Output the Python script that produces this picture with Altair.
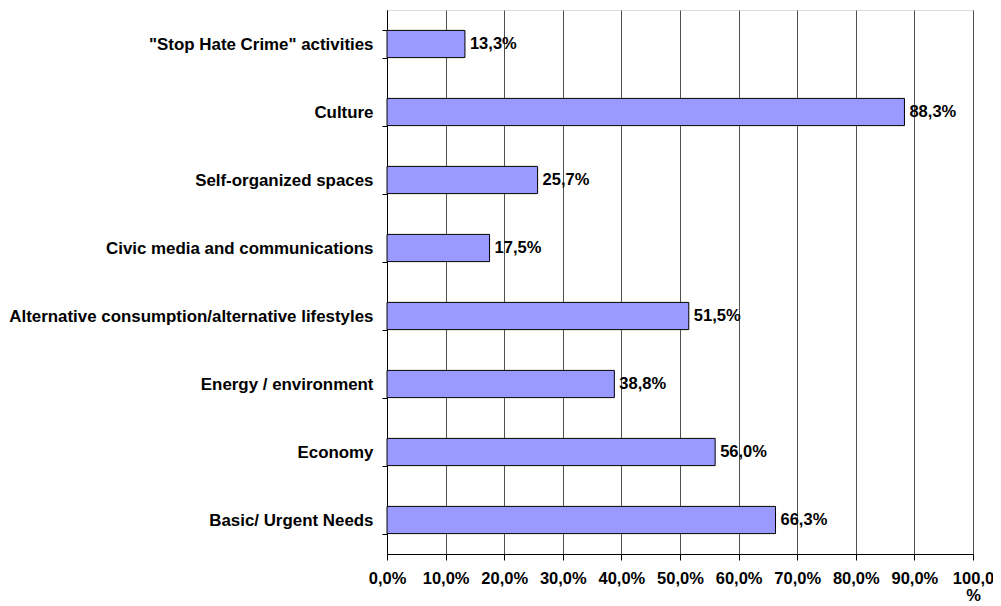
import altair as alt
import pandas as pd

categories = [
    '"Stop Hate Crime" activities',
    "Culture",
    "Self-organized spaces",
    "Civic media and communications",
    "Alternative consumption/alternative lifestyles",
    "Energy / environment",
    "Economy",
    "Basic/ Urgent Needs",
]
values = [13.3, 88.3, 25.7, 17.5, 51.5, 38.8, 56.0, 66.3]

df = pd.DataFrame({"category": categories, "value": [v / 100 for v in values]})
df["label"] = [f"{v:.1f}%".replace(".", ",") for v in values]

FONT = "Liberation Sans"
FS = 16.5

y_enc = alt.Y(
    "category:N",
    sort=categories,
    scale=alt.Scale(paddingInner=0.6, paddingOuter=0.3),
    axis=alt.Axis(
        title=None,
        tickBand="extent",
        tickSize=5,
        tickColor="#000000",
        labelPadding=9,
        labelFont=FONT,
        labelFontSize=16.9,
        labelFontWeight="bold",
        labelColor="#000000",
        labelLimit=500,
        domainColor="#000000",
        grid=False,
    ),
)

x_enc = alt.X(
    "value:Q",
    scale=alt.Scale(domain=[0, 1], nice=False),
    axis=alt.Axis(
        title=None,
        values=[i / 10 for i in range(11)],
        labelExpr="datum.value >= 0.999 ? ['100,0', '%'] : replace(format(datum.value, '.1%'), '.', ',')",
        tickSize=6,
        tickColor="#000000",
        labelPadding=10,
        labelFont=FONT,
        labelFontSize=FS,
        labelFontWeight="bold",
        labelColor="#000000",
        labelLineHeight=17,
        labelFlush=False,
        labelOverlap=False,
        domainColor="#000000",
        grid=True,
        gridColor="#505050",
        gridWidth=1,
    ),
)

bars = alt.Chart(df).mark_bar(
    color="#9999FF", stroke="#000000", strokeWidth=1
).encode(y=y_enc, x=x_enc)

labels = alt.Chart(df).mark_text(
    align="left", baseline="middle", dx=5, font=FONT, fontSize=FS,
    fontWeight="bold", color="#000000"
).encode(y=alt.Y("category:N", sort=categories), x="value:Q", text="label:N")

chart = (
    alt.layer(bars, labels)
    .properties(
        width=586,
        height=544,
        autosize=alt.AutoSizeParams(type="none"),
        padding={"left": 379, "top": 2, "right": 20, "bottom": 50},
    )
    .configure_view(stroke="#808080", strokeWidth=1)
    .configure(background="white")
)

chart.save("out.html", embed_options={"renderer": "svg", "actions": False})
